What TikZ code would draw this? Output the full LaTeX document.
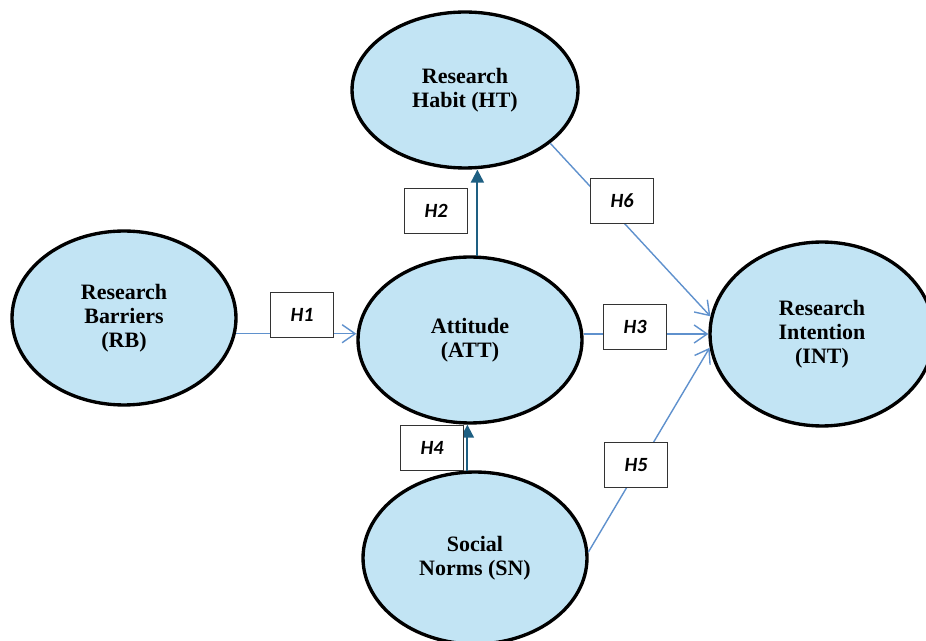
\documentclass[tikz,border=0pt]{standalone}
\usepackage{fontspec}
\setmainfont{Liberation Serif}
\newfontfamily\hfont{Carlito}
\usetikzlibrary{arrows.meta,shapes.geometric}
\definecolor{fillblue}{RGB}{194,228,244}
\definecolor{lineblue}{RGB}{95,145,205}
\definecolor{darkteal}{RGB}{30,95,130}
\begin{document}
\begin{tikzpicture}[x=0.02cm,y=-0.02cm,
 construct/.style={ellipse, draw=black, line width=1.9pt, fill=fillblue, inner sep=0pt, align=center, font=\fontsize{12.5}{13.7}\selectfont\bfseries},
 hbox/.style={draw=black!80, line width=0.6pt, fill=white, minimum width=1.26cm, minimum height=0.9cm, inner sep=0pt, font=\hfont\fontsize{11.5}{13}\selectfont\bfseries\itshape},
 lightlink/.style={draw=lineblue, line width=0.8pt, -{Straight Barb[length=2.6mm,width=3.6mm]}},
 darklink/.style={draw=darkteal, line width=1.2pt, -{Triangle[length=2.6mm,width=2.6mm]}}]
\useasboundingbox (0,0) rectangle (926,641);
\clip (0,0) rectangle (926,641);
% constructs
\node[construct, minimum width=4.48cm, minimum height=3.48cm] (RB) at (124,318) {Research\\Barriers\\(RB)};
\node[construct, minimum width=4.52cm, minimum height=3.12cm] (HT) at (465,90) {Research\\Habit (HT)};
\node[construct, minimum width=4.48cm, minimum height=3.32cm] (ATT) at (470,340) {Attitude\\(ATT)};
\node[construct, minimum width=4.48cm, minimum height=3.68cm] (INT) at (822,334) {Research\\Intention\\(INT)};
\node[construct, minimum width=4.48cm, minimum height=3.44cm] (SN) at (475,558) {Social\\Norms (SN)};
% links
\draw[lightlink] (RB.-8) -- (RB.-8 -| ATT.west);
\draw[lightlink] (INT.west -| ATT.east) -- (INT.west);
\draw[lightlink] (HT.-32) -- (INT.171);
\draw[lightlink] (SN.3) -- (INT.-173);
\draw[darklink] (ATT.85) -- (ATT.85 |- HT.south);
\draw[darklink] (SN.95) -- (SN.95 |- ATT.south);
% hypothesis labels
\node[hbox] (H1) at (302,315) {H1};
\node[hbox] (H2) at (436,211) {H2};
\node[hbox] (H3) at (635,327) {H3};
\node[hbox] (H4) at (432,448) {H4};
\node[hbox] (H5) at (636,465) {H5};
\node[hbox] (H6) at (622,201) {H6};
\end{tikzpicture}
\end{document}
